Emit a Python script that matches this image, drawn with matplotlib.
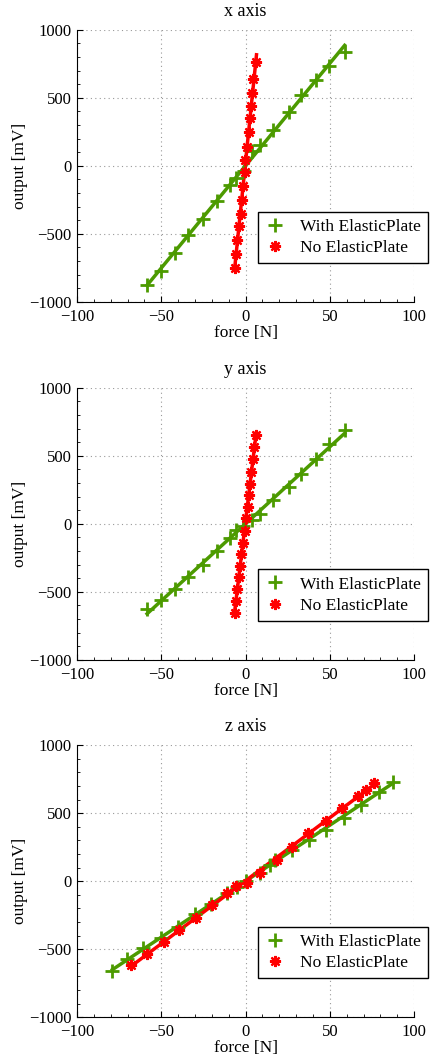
import matplotlib
matplotlib.use('Agg')
import matplotlib.pyplot as plt
import numpy as np

plt.rcParams['font.family'] = ['Liberation Serif', 'DejaVu Serif']
plt.rcParams['font.size'] = 12.5
plt.rcParams['axes.unicode_minus'] = True

green = '#4c9a00'
red = '#ff0000'

# x axis
x_with_f = [-58.4, -50.4, -41.7, -33.9, -25.1, -17.2, -9.2, -5.5, -1.0, 3.9, 8.8, 16.3, 25.5, 32.9, 41.7, 49.6, 58.8]
x_with_v = [-877, -771, -640, -512, -389, -256, -138, -89, -37, 108, 153, 264, 399, 522, 633, 736, 835]
x_no_f = [-6.5, -5.7, -4.9, -3.7, -2.9, -2.0, -1.4, -0.6, -0.2, 0.8, 2.0, 2.5, 3.3, 4.1, 4.7, 6.5]
x_no_v = [-751, -652, -549, -446, -352, -249, -150, -44, 42, 140, 251, 350, 441, 539, 638, 763]

# y axis
y_with_f = [-58.4, -50.4, -41.7, -33.9, -25.1, -17.2, -9.2, -5.5, -1.5, 3.9, 8.8, 16.3, 25.5, 32.9, 41.7, 49.6, 58.8]
y_with_v = [-628, -559, -478, -392, -305, -197, -103, -49, -15, 25, 74, 172, 271, 365, 475, 586, 690]
y_no_f = [-6.5, -5.7, -4.9, -4.1, -3.3, -2.5, -1.5, -0.6, 0.4, 1.2, 2.0, 2.7, 3.5, 4.3, 5.1, 6.3]
y_no_v = [-658, -571, -478, -394, -313, -222, -140, -54, 39, 123, 212, 296, 384, 475, 562, 655]

# z axis
z_with_f = [-79.0, -70.6, -60.8, -50.0, -39.8, -30.0, -20.6, -10.8, -5.3, 0.0, 8.8, 14.3, 17.6, 27.4, 37.8, 48.0, 58.4, 68.6, 79.0, 87.2]
z_with_v = [-659, -573, -493, -415, -334, -244, -171, -85, -44, 5, 61, 117, 159, 232, 305, 378, 468, 561, 659, 732]
z_no_f = [-68.0, -58.2, -48.4, -39.2, -29.4, -19.6, -10.8, -5.9, 1.0, 8.4, 18.6, 27.4, 37.2, 47.6, 57.4, 66.6, 71.5, 76.4]
z_no_v = [-615, -532, -446, -361, -268, -178, -85, -37, -12, 61, 159, 249, 354, 444, 537, 629, 671, 720]

panels = [
    ('x axis', x_with_f, x_with_v, x_no_f, x_no_v),
    ('y axis', y_with_f, y_with_v, y_no_f, y_no_v),
    ('z axis', z_with_f, z_with_v, z_no_f, z_no_v),
]

fig = plt.figure(figsize=(4.3, 10.59), dpi=100)
bottoms = [0.7150, 0.3770, 0.0395]

for (title, wf, wv, nf, nv), b in zip(panels, bottoms):
    ax = fig.add_axes([0.179, b, 0.784, 0.2568])
    for f, v, col in [(wf, wv, green), (nf, nv, red)]:
        f = np.array(f)
        v = np.array(v)
        p = np.polyfit(f, v, 1)
        xs = np.array([f.min(), f.max()])
        ax.plot(xs, np.polyval(p, xs), color=col, lw=2.5, zorder=2)
    hw, = ax.plot(wf, wv, ls='none', marker='+', ms=10, mew=2, color=green, zorder=3)
    hn, = ax.plot(nf, nv, ls='none', marker=(8, 2, 0), ms=8, mew=1.6, color=red, zorder=3)
    ax.set_xlim(-100, 100)
    ax.set_ylim(-1000, 1000)
    ax.set_xticks([-100, -50, 0, 50, 100])
    ax.set_yticks([-1000, -500, 0, 500, 1000])
    ax.minorticks_on()
    ax.tick_params(which='both', direction='in', top=False, right=False, labelsize=12)
    ax.tick_params(which='major', length=4)
    ax.tick_params(which='minor', length=2)
    ax.tick_params(axis='x', pad=5)
    ax.tick_params(axis='y', pad=4)
    ax.grid(True, which='major', ls=(0, (1, 3)), color='#999999', lw=0.8)
    ax.spines['top'].set_visible(False)
    ax.spines['right'].set_visible(False)
    ax.set_title(title, fontsize=13, pad=10)
    ax.set_xlabel('force [N]', labelpad=0)
    ax.set_ylabel('output [mV]', labelpad=1)
    leg = ax.legend([hw, hn], ['With ElasticPlate', 'No ElasticPlate'],
                    loc='lower right', bbox_to_anchor=(1.04, 0.143), borderaxespad=0,
                    fancybox=False, framealpha=1, edgecolor='black', fontsize=12.5,
                    handlelength=1.2, borderpad=0.4, labelspacing=0.3)
    leg.get_frame().set_linewidth(1.0)

fig.savefig('out.png', dpi=100)
